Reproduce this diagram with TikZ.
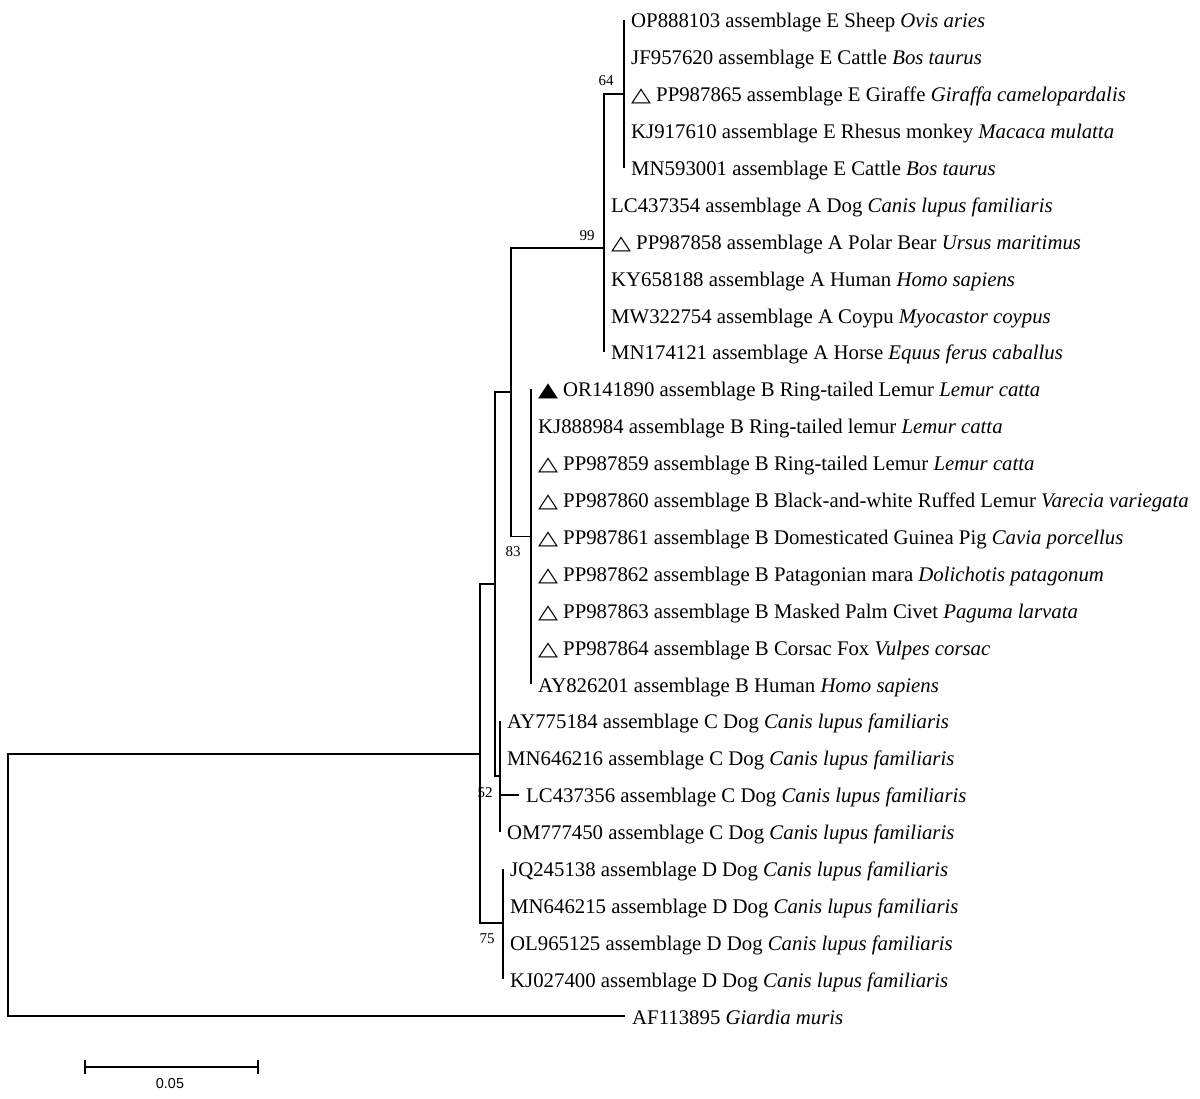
\documentclass[tikz,border=0pt]{standalone}
\usepackage{fontspec}
\usepackage{graphicx}
\setmainfont{Liberation Serif}
\newfontfamily\dejavu{DejaVu Sans}
\newfontfamily\lsans{Liberation Sans}
\newcommand\otri{{\dejavu\scalebox{1.25}[0.95]{△}}\hspace{5pt}}
\newcommand\ftri{{\dejavu\scalebox{1.25}[0.95]{▲}}\hspace{5pt}}
\begin{document}
\begin{tikzpicture}[x=1pt,y=-1pt,
  branch/.style={line width=1.9pt, line join=miter},
  leaf/.style={anchor=base west, inner sep=0pt, font=\fontsize{20.8}{24}\selectfont},
  boot/.style={inner sep=0pt, font=\fontsize{15}{17}\selectfont},
  scalelab/.style={inner sep=0pt, font=\lsans\fontsize{14.4}{16}\selectfont}]
\useasboundingbox (0,0) rectangle (1200,1099);
% internal nodes
\coordinate (E) at (624,93.8);
\coordinate (A) at (604,248);
\coordinate (B) at (531,536.5);
\coordinate (AB) at (511,392);
\coordinate (C) at (500,776.3);
\coordinate (ABC) at (495,584);
\coordinate (D) at (503,923.4);
\coordinate (ING) at (480,754);
\coordinate (R) at (8,885);
% tips
\coordinate (t1) at (624,20);
\coordinate (t2) at (624,56.9);
\coordinate (t3) at (624,93.8);
\coordinate (t4) at (624,130.7);
\coordinate (t5) at (624,167.6);
\coordinate (t6) at (604,204.4);
\coordinate (t7) at (604,241.3);
\coordinate (t8) at (604,278.2);
\coordinate (t9) at (604,315.1);
\coordinate (t10) at (604,352.0);
\coordinate (t11) at (531,388.9);
\coordinate (t12) at (531,425.8);
\coordinate (t13) at (531,462.7);
\coordinate (t14) at (531,499.6);
\coordinate (t15) at (531,536.5);
\coordinate (t16) at (531,573.4);
\coordinate (t17) at (531,610.2);
\coordinate (t18) at (531,647.1);
\coordinate (t19) at (531,684.0);
\coordinate (t20) at (500,720.9);
\coordinate (t21) at (500,757.8);
\coordinate (t22) at (519,794.7);
\coordinate (t23) at (500,831.6);
\coordinate (t24) at (503,868.5);
\coordinate (t25) at (503,905.4);
\coordinate (t26) at (503,942.3);
\coordinate (t27) at (503,979.1);
\coordinate (t28) at (625,1016);
% branches
\draw[branch] (R) |- (ING);
\draw[branch] (R) |- (t28);
\draw[branch] (ING) |- (ABC);
\draw[branch] (ING) |- (D);
\draw[branch] (ABC) |- (AB);
\draw[branch] (ABC) |- (C);
\draw[branch] (AB) |- (A);
\draw[branch] (AB) |- (B);
\draw[branch] (A) |- (E);
\foreach \i in {6,...,10} \draw[branch] (A) |- (t\i);
\foreach \i in {1,...,5} \draw[branch] (E) |- (t\i);
\foreach \i in {11,...,19} \draw[branch] (B) |- (t\i);
\foreach \i in {20,...,23} \draw[branch] (C) |- (t\i);
\foreach \i in {24,...,27} \draw[branch] (D) |- (t\i);
% leaf labels
\node[leaf] (l1) at ([shift={(7,8)}]t1) {OP888103 assemblage E Sheep \textit{Ovis aries}};
\node[leaf] (l2) at ([shift={(7,8)}]t2) {JF957620 assemblage E Cattle \textit{Bos taurus}};
\node[leaf] (l3) at ([shift={(7,8)}]t3) {\otri PP987865 assemblage E Giraffe \textit{Giraffa camelopardalis}};
\node[leaf] (l4) at ([shift={(7,8)}]t4) {KJ917610 assemblage E Rhesus monkey \textit{Macaca mulatta}};
\node[leaf] (l5) at ([shift={(7,8)}]t5) {MN593001 assemblage E Cattle \textit{Bos taurus}};
\node[leaf] (l6) at ([shift={(7,8)}]t6) {LC437354 assemblage A Dog \textit{Canis lupus familiaris}};
\node[leaf] (l7) at ([shift={(7,8)}]t7) {\otri PP987858 assemblage A Polar Bear \textit{Ursus maritimus}};
\node[leaf] (l8) at ([shift={(7,8)}]t8) {KY658188 assemblage A Human \textit{Homo sapiens}};
\node[leaf] (l9) at ([shift={(7,8)}]t9) {MW322754 assemblage A Coypu \textit{Myocastor coypus}};
\node[leaf] (l10) at ([shift={(7,8)}]t10) {MN174121 assemblage A Horse \textit{Equus ferus caballus}};
\node[leaf] (l11) at ([shift={(7,8)}]t11) {\ftri OR141890 assemblage B Ring-tailed Lemur \textit{Lemur catta}};
\node[leaf] (l12) at ([shift={(7,8)}]t12) {KJ888984 assemblage B Ring-tailed lemur \textit{Lemur catta}};
\node[leaf] (l13) at ([shift={(7,8)}]t13) {\otri PP987859 assemblage B Ring-tailed Lemur \textit{Lemur catta}};
\node[leaf] (l14) at ([shift={(7,8)}]t14) {\otri PP987860 assemblage B Black-and-white Ruffed Lemur \textit{Varecia variegata}};
\node[leaf] (l15) at ([shift={(7,8)}]t15) {\otri PP987861 assemblage B Domesticated Guinea Pig \textit{Cavia porcellus}};
\node[leaf] (l16) at ([shift={(7,8)}]t16) {\otri PP987862 assemblage B Patagonian mara \textit{Dolichotis patagonum}};
\node[leaf] (l17) at ([shift={(7,8)}]t17) {\otri PP987863 assemblage B Masked Palm Civet \textit{Paguma larvata}};
\node[leaf] (l18) at ([shift={(7,8)}]t18) {\otri PP987864 assemblage B Corsac Fox \textit{Vulpes corsac}};
\node[leaf] (l19) at ([shift={(7,8)}]t19) {AY826201 assemblage B Human \textit{Homo sapiens}};
\node[leaf] (l20) at ([shift={(7,8)}]t20) {AY775184 assemblage C Dog \textit{Canis lupus familiaris}};
\node[leaf] (l21) at ([shift={(7,8)}]t21) {MN646216 assemblage C Dog \textit{Canis lupus familiaris}};
\node[leaf] (l22) at ([shift={(7,8)}]t22) {LC437356 assemblage C Dog \textit{Canis lupus familiaris}};
\node[leaf] (l23) at ([shift={(7,8)}]t23) {OM777450 assemblage C Dog \textit{Canis lupus familiaris}};
\node[leaf] (l24) at ([shift={(7,8)}]t24) {JQ245138 assemblage D Dog \textit{Canis lupus familiaris}};
\node[leaf] (l25) at ([shift={(7,8)}]t25) {MN646215 assemblage D Dog \textit{Canis lupus familiaris}};
\node[leaf] (l26) at ([shift={(7,8)}]t26) {OL965125 assemblage D Dog \textit{Canis lupus familiaris}};
\node[leaf] (l27) at ([shift={(7,8)}]t27) {KJ027400 assemblage D Dog \textit{Canis lupus familiaris}};
\node[leaf] (l28) at ([shift={(7,8)}]t28) {AF113895 \textit{Giardia muris}};
% bootstrap values
\node[boot] (b64) at ([shift={(-18,-13)}]E) {64};
\node[boot] (b99) at ([shift={(-17,-12)}]A) {99};
\node[boot] (b83) at ([shift={(-18,15)}]B) {83};
\node[boot] (b52) at ([shift={(-15,16)}]C) {52};
\node[boot] (b75) at ([shift={(-16,15)}]D) {75};
% scale bar
\coordinate (s1) at (85,1067);
\coordinate (s2) at (258,1067);
\draw[branch] (s1) -- (s2);
\draw[branch] ([yshift=-7pt]s1) -- ([yshift=7pt]s1);
\draw[branch] ([yshift=-7pt]s2) -- ([yshift=7pt]s2);
\node[scalelab] (slab) at (170,1084) {0.05};
\end{tikzpicture}
\end{document}
